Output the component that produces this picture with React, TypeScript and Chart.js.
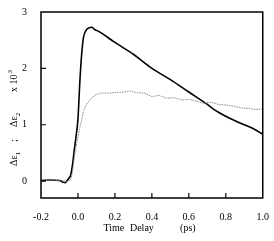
import React, { useEffect, useRef } from "react";
import { Chart, registerables } from "chart.js";

Chart.register(...registerables);

const xTicks = [-0.2, 0.0, 0.2, 0.4, 0.6, 0.8, 1.0];
const yTicks = [0, 1, 2, 3];

const solidX = [-0.2, -0.15, -0.1, -0.08, -0.07, -0.06, -0.05, -0.04, -0.03, -0.02, -0.01, 0.0, 0.01, 0.02, 0.03, 0.045, 0.06, 0.075, 0.09, 0.11, 0.13, 0.2, 0.3, 0.4, 0.5, 0.6, 0.7, 0.75, 0.8, 0.85, 0.9, 0.95, 1.0];
const solidY = [0.01, 0.02, 0.01, -0.02, -0.03, 0.0, 0.05, 0.1, 0.28, 0.55, 0.8, 1.1, 1.75, 2.25, 2.55, 2.68, 2.72, 2.73, 2.69, 2.66, 2.62, 2.46, 2.25, 2.0, 1.8, 1.58, 1.36, 1.24, 1.15, 1.07, 1.0, 0.93, 0.83];

const dotX = [-0.2, -0.15, -0.1, -0.06, -0.04, -0.03, -0.017, -0.005, 0.01, 0.02, 0.03, 0.05, 0.07, 0.09, 0.12, 0.16, 0.2, 0.25, 0.28, 0.32, 0.36, 0.4, 0.44, 0.48, 0.52, 0.56, 0.6, 0.64, 0.68, 0.72, 0.76, 0.8, 0.84, 0.88, 0.92, 0.96, 1.0];
const dotY = [0.0, 0.02, 0.01, 0.0, 0.02, 0.15, 0.48, 0.7, 0.95, 1.08, 1.25, 1.38, 1.46, 1.52, 1.56, 1.56, 1.57, 1.58, 1.6, 1.57, 1.56, 1.5, 1.52, 1.47, 1.48, 1.44, 1.45, 1.42, 1.38, 1.4, 1.36, 1.35, 1.33, 1.3, 1.29, 1.27, 1.28];

const FONT = "'Liberation Serif', 'DejaVu Serif', serif";

const framePlugin = {
  id: "frame",
  afterDraw(chart: any) {
    const { ctx, chartArea: a, scales } = chart;
    const xs = scales.x;
    const ys = scales.y;
    ctx.save();
    ctx.strokeStyle = "#000";
    ctx.lineWidth = 1.5;
    ctx.strokeRect(a.left, a.top, a.right - a.left, a.bottom - a.top);
    ctx.lineWidth = 1.2;
    ctx.beginPath();
    xTicks.forEach((v) => {
      const p = xs.getPixelForValue(v);
      if (p > a.left + 2 && p < a.right - 2) {
        ctx.moveTo(p, a.bottom);
        ctx.lineTo(p, a.bottom - 5);
      }
    });
    yTicks.forEach((v) => {
      const p = ys.getPixelForValue(v);
      if (p > a.top + 2 && p < a.bottom - 2) {
        ctx.moveTo(a.left, p);
        ctx.lineTo(a.left + 5, p);
      }
    });
    ctx.stroke();

    // x title
    ctx.fillStyle = "#000";
    ctx.font = `10px ${FONT}`;
    ctx.textBaseline = "alphabetic";
    ctx.textAlign = "center";
    const cx = (a.left + a.right) / 2;
    const ty = a.bottom + 33;
    ctx.fillText("Time", cx - 38, ty);
    ctx.fillText("Delay", cx - 10, ty);
    ctx.fillText("(ps)", cx + 36, ty);

    // y title (rotated)
    ctx.translate(17, a.bottom - 32);
    ctx.rotate(-Math.PI / 2);
    ctx.textAlign = "left";
    const put = (t: string, size: number, u: number, dy: number) => {
      ctx.font = `${size}px ${FONT}`;
      ctx.fillText(t, u, dy);
      return u + ctx.measureText(t).width;
    };
    let u = put("\u0394\u03b5", 10, 0, 0);
    put("1", 7, u, 3);
    put(";", 10, 24, 0);
    u = put("\u0394\u03b5", 10, 39, 0);
    put("2", 7, u, 3);
    u = put("x 10", 10, 74, 0);
    put("3", 7, u + 1, -5);
    ctx.restore();
  },
};

export default function App() {
  const ref = useRef<HTMLCanvasElement>(null);
  useEffect(() => {
    if (!ref.current) return;
    const chart = new Chart(ref.current, {
      type: "scatter",
      data: {
        datasets: [
          {
            data: dotX.map((x, i) => ({ x, y: dotY[i] })),
            showLine: true,
            borderColor: "#8a8a8a",
            borderWidth: 1,
            borderDash: [1.5, 1],
            pointRadius: 0,
            tension: 0,
          },
          {
            data: solidX.map((x, i) => ({ x, y: solidY[i] })),
            showLine: true,
            borderColor: "#000",
            borderWidth: 1.6,
            pointRadius: 0,
            cubicInterpolationMode: "monotone",
          },
        ],
      },
      options: {
        responsive: false,
        animation: false,
        layout: { padding: { top: 9, right: 10, left: 0, bottom: 0 } },
        plugins: { legend: { display: false }, tooltip: { enabled: false } },
        scales: {
          x: {
            type: "linear",
            min: -0.2,
            max: 1.0,
            grid: { display: false },
            border: { display: false },
            afterBuildTicks: (s: any) => {
              s.ticks = xTicks.map((v) => ({ value: v }));
            },
            afterFit: (s: any) => {
              s.height = 43;
            },
            ticks: {
              padding: 5,
              color: "#000",
              font: { family: FONT, size: 10 },
              maxRotation: 0,
              callback: (v: any) => Number(v).toFixed(1),
            },
          },
          y: {
            type: "linear",
            min: -0.3,
            max: 3,
            grid: { display: false },
            border: { display: false },
            afterBuildTicks: (s: any) => {
              s.ticks = yTicks.map((v) => ({ value: v }));
            },
            afterFit: (s: any) => {
              s.width = 41;
            },
            ticks: {
              padding: 6,
              color: "#000",
              font: { family: FONT, size: 10 },
              callback: (v: any) => String(v),
            },
          },
        },
      },
      plugins: [framePlugin],
    } as any);
    return () => chart.destroy();
  }, []);
  return (
    <div style={{ position: "fixed", left: 0, top: 0, width: 274, height: 241, background: "#fff" }}>
      <canvas ref={ref} width={274} height={241} />
    </div>
  );
}
